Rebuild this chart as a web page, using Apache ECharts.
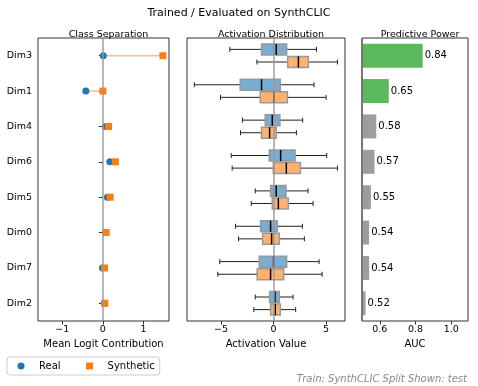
<!DOCTYPE html>
<html>
<head>
<meta charset="utf-8">
<script src="https://cdn.jsdelivr.net/npm/echarts@6/dist/echarts.min.js"></script>
<style>
  html, body { margin: 0; padding: 0; background: #fff; }
  #chart { width: 478px; height: 386px; }
</style>
</head>
<body>
<div id="chart"></div>
<script>
const dims = ['Dim3', 'Dim1', 'Dim4', 'Dim6', 'Dim5', 'Dim0', 'Dim7', 'Dim2']

// mean logit contribution per dim
const realLogit = [0.01, -0.42, 0.06, 0.17, 0.11, 0.07, -0.01, 0.03]
const synthLogit = [1.48, 0.0, 0.14, 0.31, 0.18, 0.08, 0.04, 0.05]

// [low whisker, q1, median, q3, high whisker]
const realBox = [
  [-4.17, -1.15, 0.25, 1.24, 4.08],
  [-7.55, -3.18, -1.15, 0.64, 3.85],
  [-2.96, -0.80, -0.13, 0.60, 2.77],
  [-4.04, -0.41, 0.67, 2.04, 5.06],
  [-1.75, -0.29, 0.25, 1.18, 3.28],
  [-3.63, -1.24, -0.29, 0.35, 2.74],
  [-5.13, -1.37, 0.0, 1.24, 4.33],
  [-1.75, -0.38, 0.13, 0.54, 1.85],
]
const synthBox = [
  [-1.59, 1.34, 2.36, 3.31, 6.08],
  [-5.06, -1.27, 0.03, 1.31, 5.0],
  [-3.15, -1.15, -0.38, 0.25, 2.17],
  [-3.95, -0.03, 1.21, 2.55, 6.08],
  [-2.13, -0.13, 0.45, 1.40, 3.76],
  [-3.34, -1.05, -0.19, 0.54, 2.93],
  [-5.32, -1.56, -0.29, 0.96, 4.62],
  [-1.88, -0.29, 0.16, 0.64, 2.10],
]

const auc = [0.84, 0.65, 0.58, 0.57, 0.55, 0.54, 0.54, 0.52]

const logitTicks = [-1, 0, 1]
const activationTicks = [-5, 0, 5]
const aucTicks = [0.6, 0.8, 1.0]

const FONT = 'DejaVu Sans'
const BLUE = '#1f77b4'
const ORANGE = '#ff7f0e'

const grids = [
  { left: 38, top: 38, width: 131, height: 283 },
  { left: 187, top: 38, width: 158, height: 283 },
  { left: 362, top: 38, width: 106, height: 283 },
].map(g => ({ ...g, show: true, borderColor: '#333', borderWidth: 1, backgroundColor: 'transparent' }))

const minus = v => String(v).replace('-', '\u2212')

const xAxisBase = (gridIndex, min, max, ticks, name, fmt) => ({
  type: 'value', gridIndex, min, max,
  name, nameLocation: 'middle', nameGap: 16,
  nameTextStyle: { fontFamily: FONT, fontSize: 10, color: '#000' },
  axisLine: { show: false },
  axisTick: { show: true, length: 3.5, customValues: ticks, lineStyle: { color: '#333' } },
  axisLabel: { customValues: ticks, margin: 4, fontFamily: FONT, fontSize: 9.5, color: '#000', formatter: fmt },
  splitLine: { show: false },
})

const yAxisBase = (gridIndex, showLabels) => ({
  type: 'category', gridIndex, data: dims, inverse: true,
  axisLine: { show: false },
  axisTick: { show: showLabels, alignWithLabel: true, length: 4, lineStyle: { color: '#333' } },
  axisLabel: { show: showLabels, margin: 6, fontFamily: FONT, fontSize: 9.5, color: '#000' },
  splitLine: { show: false },
})

const zeroLine = value => ({
  silent: true, symbol: 'none', label: { show: false },
  lineStyle: { color: '#999', width: 2, type: 'solid', opacity: 0.7 },
  data: [{ xAxis: value }],
})

function boxRender(offset, fill) {
  return (params, api) => {
    const cat = api.value(0)
    const p = [1, 2, 3, 4, 5].map(k => api.coord([api.value(k), cat]))
    const y = p[0][1] + offset
    const h = 11, cap = 2.5
    const wl = { stroke: '#222', lineWidth: 1 }
    return {
      type: 'group',
      children: [
        { type: 'line', shape: { x1: p[0][0], y1: y, x2: p[1][0], y2: y }, style: wl },
        { type: 'line', shape: { x1: p[3][0], y1: y, x2: p[4][0], y2: y }, style: wl },
        { type: 'line', shape: { x1: p[0][0], y1: y - cap, x2: p[0][0], y2: y + cap }, style: wl },
        { type: 'line', shape: { x1: p[4][0], y1: y - cap, x2: p[4][0], y2: y + cap }, style: wl },
        { type: 'rect', shape: { x: p[1][0], y: y - h / 2, width: p[3][0] - p[1][0], height: h },
          style: { fill, stroke: '#999', lineWidth: 1.5 } },
        { type: 'line', shape: { x1: p[2][0], y1: y - h / 2, x2: p[2][0], y2: y + h / 2 },
          style: { stroke: '#000', lineWidth: 1.5 } },
      ],
    }
  }
}

const centerOf = g => g.left + g.width / 2
const subTitle = (text, g) => ({
  text, left: centerOf(g), top: 25, textAlign: 'center',
  textStyle: { fontFamily: FONT, fontSize: 9.5, fontWeight: 'normal', color: '#000' },
})

const option = {
  animation: false,
  backgroundColor: '#fff',
  title: [
    { text: 'Trained / Evaluated on SynthCLIC', left: 'center', top: 3,
      textStyle: { fontFamily: FONT, fontSize: 11, fontWeight: 'normal', color: '#000' } },
    subTitle('Class Separation', grids[0]),
    subTitle('Activation Distribution', grids[1]),
    subTitle('Predictive Power', grids[2]),
    { text: 'Train: SynthCLIC Split Shown: test', right: 6, top: 369,
      textStyle: { fontFamily: FONT, fontSize: 10, fontStyle: 'italic', fontWeight: 'normal', color: '#888' } },
  ],
  legend: {
    left: 7, top: 357,
    padding: [4, 5, 4, 10.5],
    itemWidth: 7, itemHeight: 7, itemGap: 25.5,
    borderColor: '#ccc', borderWidth: 1, borderRadius: 3,
    textStyle: { fontFamily: FONT, fontSize: 10, color: '#000', padding: [0, 0, 0, 9.5] },
    data: [{ name: 'Real', icon: 'circle' }, { name: 'Synthetic', icon: 'rect' }],
  },
  grid: grids,
  xAxis: [
    xAxisBase(0, -1.6, 1.63, logitTicks, 'Mean Logit Contribution', minus),
    xAxisBase(1, -8.25, 6.8, activationTicks, 'Activation Value', minus),
    xAxisBase(2, 0.5, 1.094, aucTicks, 'AUC', v => v.toFixed(1)),
  ],
  yAxis: [yAxisBase(0, true), yAxisBase(1, false), yAxisBase(2, false)],
  series: [
    {
      type: 'custom', xAxisIndex: 0, yAxisIndex: 0,
      data: dims.map((d, i) => [i, realLogit[i], synthLogit[i]]),
      encode: { x: [1, 2], y: 0 },
      renderItem: (params, api) => {
        const a = api.coord([api.value(1), api.value(0)])
        const b = api.coord([api.value(2), api.value(0)])
        return { type: 'line', shape: { x1: a[0], y1: a[1], x2: b[0], y2: b[1] },
          style: { stroke: ORANGE, opacity: 0.5, lineWidth: 1.5 } }
      },
      markLine: zeroLine(0),
      z: 1,
    },
    {
      name: 'Real', type: 'scatter', xAxisIndex: 0, yAxisIndex: 0,
      symbol: 'circle', symbolSize: 7,
      itemStyle: { color: BLUE, opacity: 1 },
      data: dims.map((d, i) => [realLogit[i], i]),
      z: 3,
    },
    {
      name: 'Synthetic', type: 'scatter', xAxisIndex: 0, yAxisIndex: 0,
      symbol: 'rect', symbolSize: 7,
      itemStyle: { color: ORANGE, opacity: 1 },
      data: dims.map((d, i) => [synthLogit[i], i]),
      z: 4,
    },
    {
      type: 'custom', xAxisIndex: 1, yAxisIndex: 1,
      data: dims.map((d, i) => [i, ...realBox[i]]),
      encode: { x: [1, 2, 3, 4, 5], y: 0 },
      renderItem: boxRender(-6.3, 'rgba(31,119,180,0.6)'),
      z: 2,
    },
    {
      type: 'custom', xAxisIndex: 1, yAxisIndex: 1,
      data: dims.map((d, i) => [i, ...synthBox[i]]),
      encode: { x: [1, 2, 3, 4, 5], y: 0 },
      renderItem: boxRender(6.3, 'rgba(255,127,14,0.6)'),
      markLine: zeroLine(0),
      z: 2,
    },
    {
      type: 'bar', xAxisIndex: 2, yAxisIndex: 2,
      barWidth: 24,
      data: auc,
      itemStyle: { color: p => (auc[p.dataIndex] >= 0.6 ? '#5cb85c' : '#9e9e9e') },
      label: { show: true, position: 'right', distance: 2, fontFamily: FONT, fontSize: 10, color: '#000',
        formatter: p => p.value.toFixed(2) },
      markLine: { ...zeroLine(0.5), lineStyle: { color: '#777', width: 2, type: 'solid' } },
      z: 2,
    },
  ],
}

echarts.init(document.getElementById('chart')).setOption(option)
</script>
</body>
</html>
